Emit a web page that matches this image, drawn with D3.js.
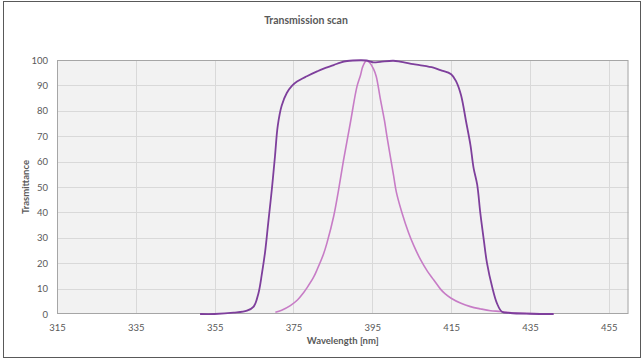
<!DOCTYPE html>
<html><head><meta charset="utf-8">
<script src="https://cdn.jsdelivr.net/npm/d3@7"></script>
<style>body{margin:0;background:#fff}svg{display:block}</style>
</head><body>
<svg id="c" width="643" height="360"></svg>
<script>
const title = "Transmission scan";
const xLabel = "Wavelength [nm]";
const yLabel = "Trasmittance";
const xTicks = [315, 335, 355, 375, 395, 415, 435, 455];
const yTicks = [0, 10, 20, 30, 40, 50, 60, 70, 80, 90, 100];

const wideNm = [351.3,355,359.8,363.2,364.9,366.1,367,367.8,368.6,369.5,370.3,371,372,373.3,374.6,375.9,378.4,381,382.5,385.2,386.9,388.6,392,393.5,395.3,397,400.3,402,405.4,407,410.5,412.3,415,416.3,417.5,418.8,419.9,420.7,421.6,422.4,423.3,424.1,425.4,426.6,427.9,430,435,441];
const wideT  = [0,0,0.5,1.3,2.9,8.1,16,24.5,36,49,62,74,82,87,89.8,91.5,93.6,95.5,96.5,98,99,99.6,99.9,99.8,99.1,99.3,99.7,99.4,98.4,98,97,96,94.4,91.5,86.2,75.7,66.5,57.4,51,39.8,29,20,10.7,4.3,0.9,0.4,0.1,0];

const narrowNm = [370.4,372,374.2,376,377.5,378.5,380.1,381,382.6,383.5,385.2,386.4,387.7,389.4,391.1,392,392.6,393.5,394.3,395.3,396,397,398.1,398.7,400.4,401.1,402.5,404.2,405.5,407.2,409,410.6,412.3,413.5,415,417.5,419.9,422.5,425,427.5,431,435,441];
const narrowT  = [0.7,1.5,3.3,5.5,8.3,10.5,14.5,17.5,23.5,28,38.5,48.5,60.6,75,89.5,94,97.5,99.7,99,96.5,93.5,85,76,70,54.5,48,40,32,27,21.5,16.8,13.4,9.8,7.9,6.2,4.2,2.9,2,1.3,1,0.4,0.2,0];

const svg = d3.select("#c");
const font = "Lato, 'Open Sans', sans-serif";
const L = 57, R = 628.5, T = 60, B = 314;
const x = d3.scaleLinear().domain([315, 460]).range([L, R]);
const y = d3.scaleLinear().domain([0, 100]).range([B, T]);

svg.append("rect").attr("x", 3.5).attr("y", 1.5).attr("width", 637).attr("height", 356)
  .attr("fill", "#fff").attr("stroke", "#595959").attr("stroke-width", 1);

svg.append("rect").attr("x", L).attr("y", T).attr("width", R - L).attr("height", B - T)
  .attr("fill", "#f2f2f2");

svg.append("g").selectAll("line").data(yTicks.filter(d => d > 0 && d < 100)).join("line")
  .attr("x1", L).attr("x2", R).attr("y1", d => Math.round(y(d)) + 0.5).attr("y2", d => Math.round(y(d)) + 0.5)
  .attr("stroke", "#d9d9d9");
svg.append("g").selectAll("line").data(xTicks.filter(d => d > 315)).join("line")
  .attr("y1", T).attr("y2", B).attr("x1", d => Math.round(x(d)) + 0.5).attr("x2", d => Math.round(x(d)) + 0.5)
  .attr("stroke", "#d9d9d9");

svg.append("rect").attr("x", L + 0.5).attr("y", T + 0.5).attr("width", R - L - 1).attr("height", B - T - 1)
  .attr("fill", "none").attr("stroke", "#a6a6a6");

const xAxis = svg.append("g").attr("transform", `translate(0,${B})`)
  .call(d3.axisBottom(x).tickValues(xTicks).tickSize(0).tickPadding(10));
const yAxis = svg.append("g").attr("transform", `translate(${L},0)`)
  .call(d3.axisLeft(y).tickValues(yTicks).tickSize(0).tickPadding(9));
[xAxis, yAxis].forEach(g => {
  g.select(".domain").remove();
  g.selectAll("text").attr("fill", "#595959").style("font-family", font).style("font-size", "9.5px");
});

const line = d3.line().x(d => x(d[0])).y(d => y(d[1])).curve(d3.curveCatmullRom.alpha(0.5));
svg.append("path").datum(narrowNm.map((v, i) => [v, narrowT[i]]))
  .attr("d", line).attr("fill", "none").attr("stroke", "#c77cc6").attr("stroke-width", 1.6);
svg.append("path").datum(wideNm.map((v, i) => [v, wideT[i]]))
  .attr("d", line).attr("fill", "none").attr("stroke", "#7e3f9c").attr("stroke-width", 1.8);

svg.append("text").attr("x", 306).attr("y", 24).attr("text-anchor", "middle")
  .attr("fill", "#595959").style("font-family", font).style("font-size", "10.5px").style("font-weight", "bold")
  .text(title);
svg.append("text").attr("x", (L + R) / 2).attr("y", 344).attr("text-anchor", "middle")
  .attr("fill", "#595959").style("font-family", font).style("font-size", "9.5px").style("font-weight", "bold")
  .text(xLabel);
svg.append("text").attr("transform", `translate(29,${(T + B) / 2}) rotate(-90)`).attr("text-anchor", "middle")
  .attr("fill", "#595959").style("font-family", font).style("font-size", "9.5px").style("font-weight", "bold")
  .text(yLabel);
</script>
</body></html>
